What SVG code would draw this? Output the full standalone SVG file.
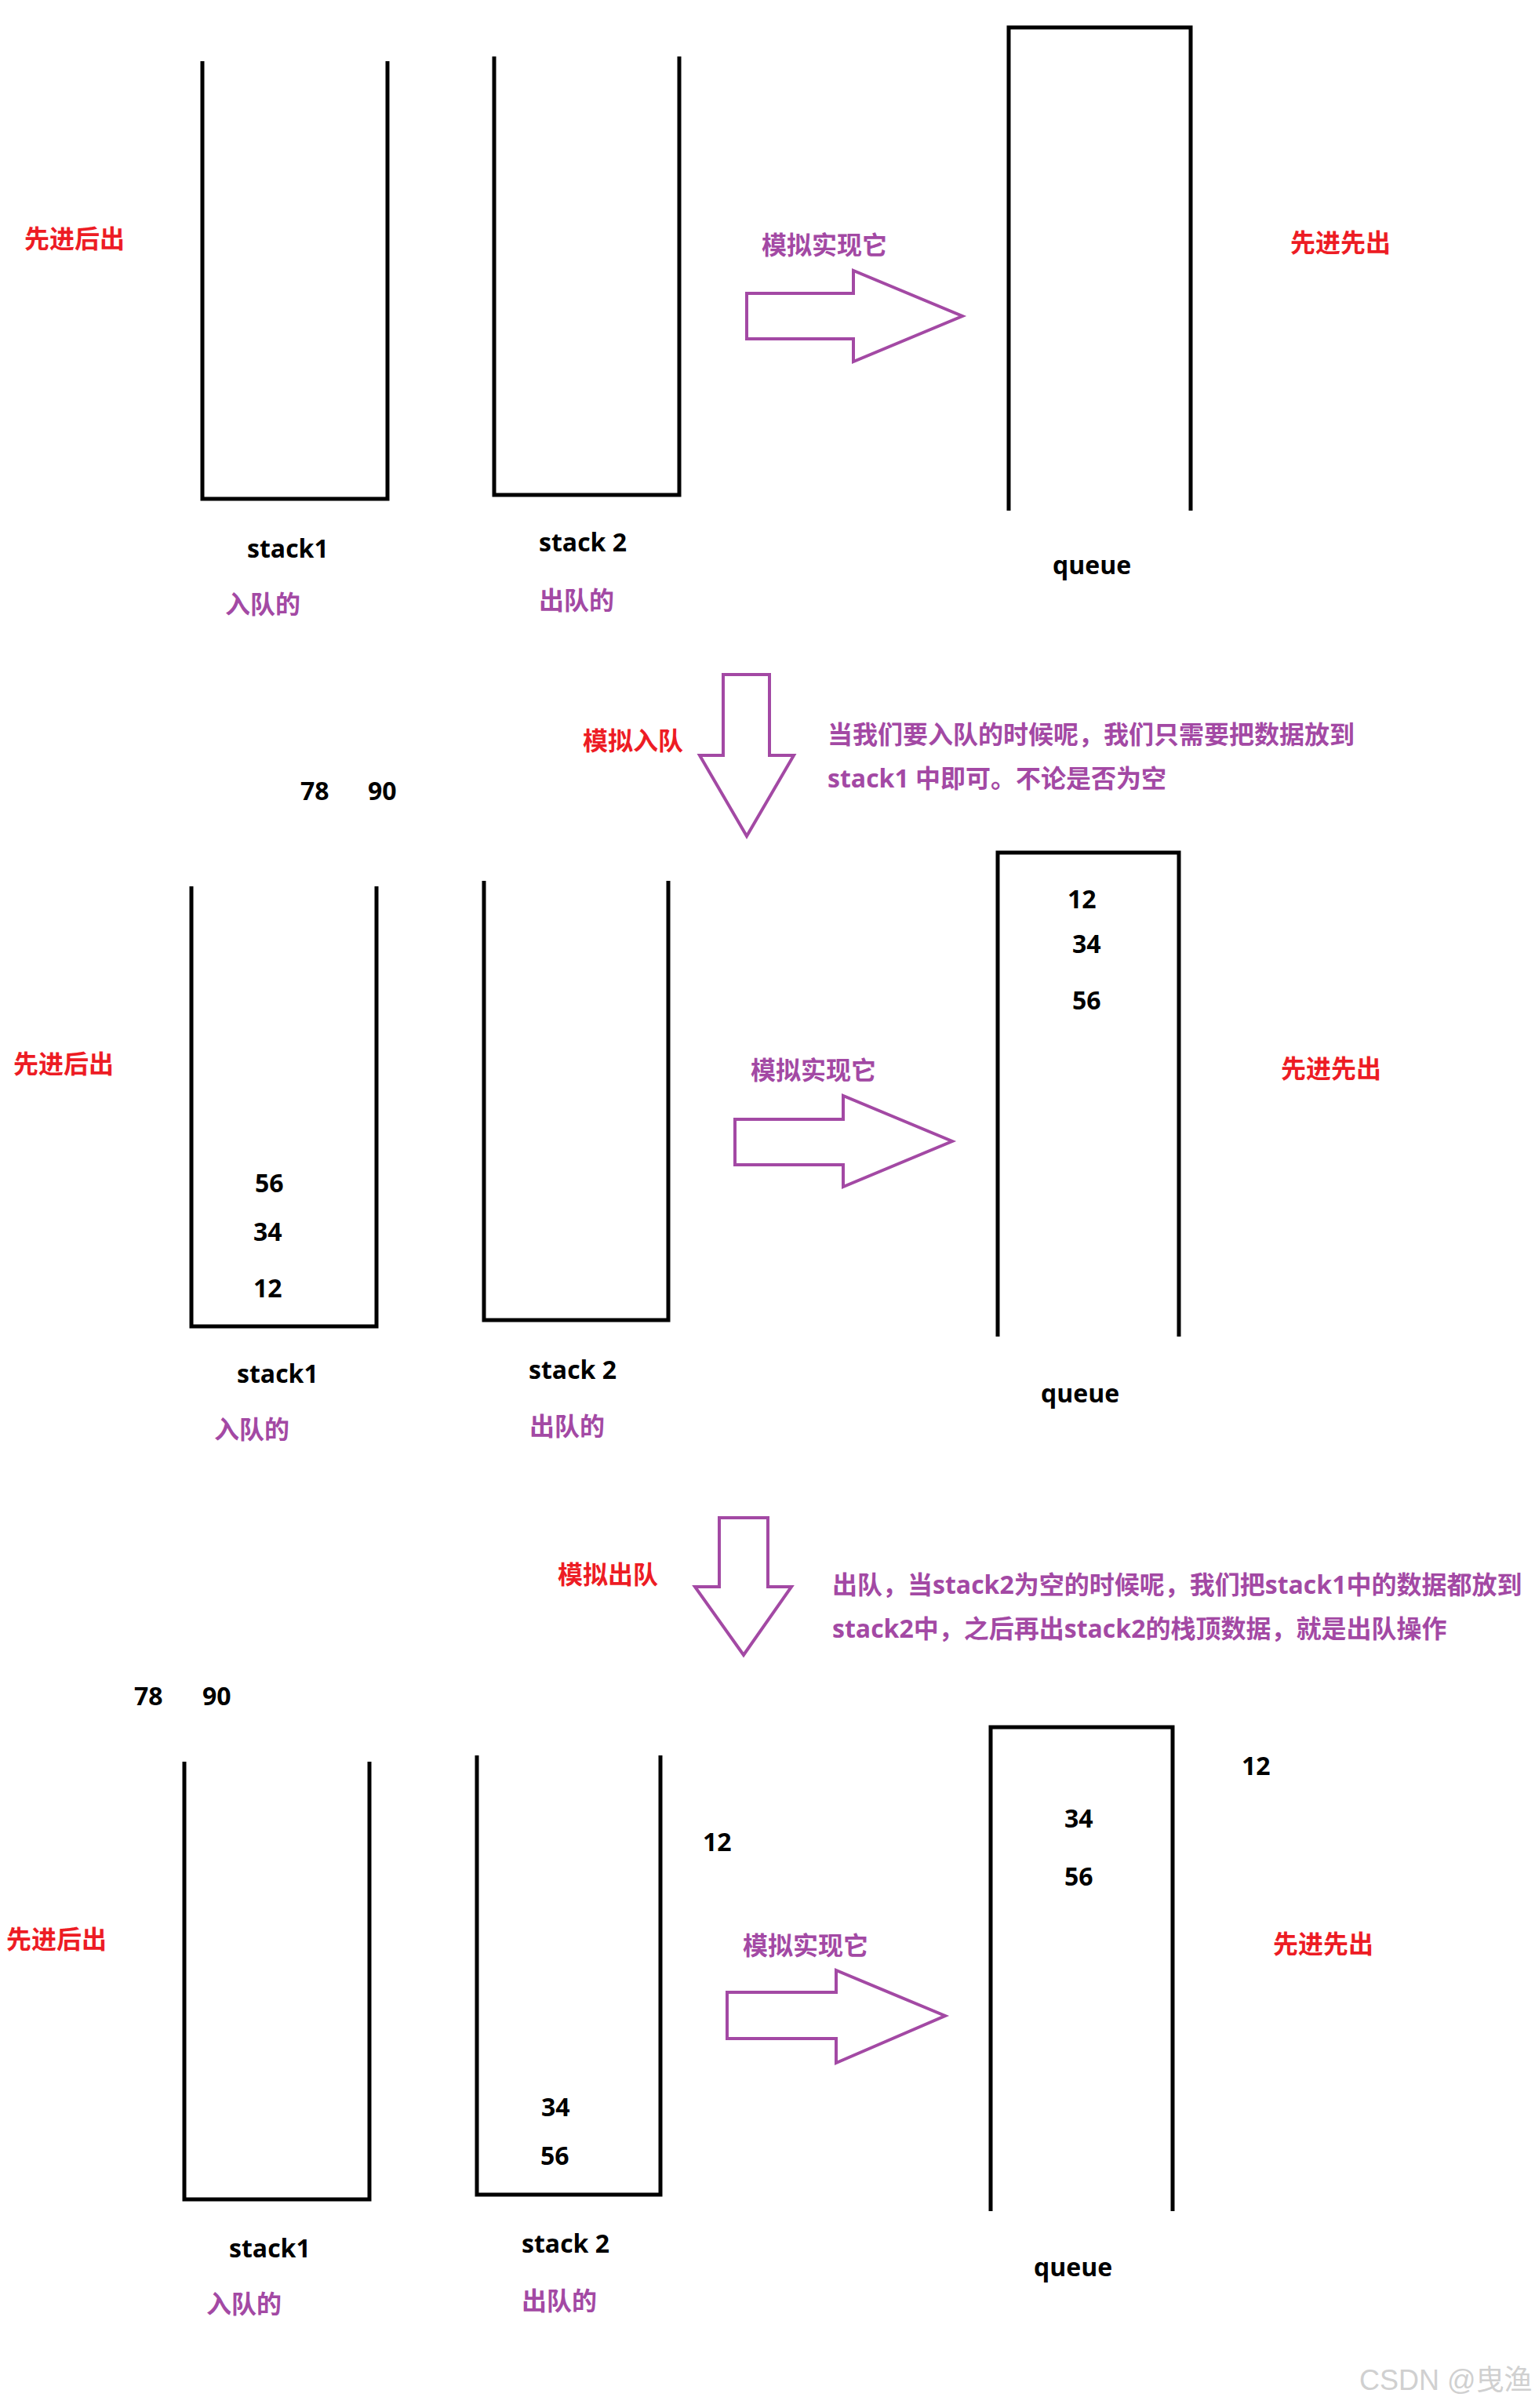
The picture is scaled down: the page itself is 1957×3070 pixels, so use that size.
<svg xmlns="http://www.w3.org/2000/svg" width="1957" height="3070" viewBox="0 0 1957 3070">
<style>
text{font-family:"Open Sans","Noto Sans CJK SC",sans-serif;font-weight:700;font-size:32px}
.blk{fill:#000}
.red{fill:#ED1C24}
.pur{fill:#A349A4}
.box{fill:none;stroke:#000;stroke-width:5;stroke-linejoin:miter}
.arr{fill:#fff;stroke:#A349A4;stroke-width:4;stroke-linejoin:miter}
.wm{fill:#d0d0d0;font-weight:400;font-size:36px;font-family:"Liberation Sans","Noto Sans CJK SC",sans-serif}
</style>
<rect width="1957" height="3070" fill="#fff"/>

<!-- Panel 1 -->
<g id="p1-label-left"><text class="red" x="31" y="316">先进后出</text></g>
<g id="p1-stack1"><path class="box" d="M258,78 V636 H494 V78"/><text class="blk" x="315" y="711">stack1</text><text class="pur" x="287" y="782">入队的</text></g>
<g id="p1-stack2"><path class="box" d="M630,72 V631 H866 V72"/><text class="blk" x="687" y="703">stack 2</text><text class="pur" x="687" y="777">出队的</text></g>
<g id="p1-sim"><text class="pur" x="971" y="324">模拟实现它</text></g>
<g id="p1-queue"><path class="box" d="M1286,651 V35 H1518 V651"/><text class="blk" x="1342" y="732">queue</text></g>
<g id="p1-label-right"><text class="red" x="1645" y="321">先进先出</text></g>

<!-- Panel 2 -->
<g id="p2-enqueue-label"><text class="red" x="743" y="956">模拟入队</text></g>
<g id="p2-desc"><text class="pur" x="1055" y="948">当我们要入队的时候呢，我们只需要把数据放到</text><text class="pur" x="1055" y="1004">stack1 中即可。不论是否为空</text></g>
<g id="p2-incoming"><text class="blk" x="383" y="1020">78</text><text class="blk" x="469" y="1020">90</text></g>
<g id="p2-label-left"><text class="red" x="17" y="1368">先进后出</text></g>
<g id="p2-stack1"><path class="box" d="M244,1130 V1691 H480 V1130"/><text class="blk" x="325" y="1520">56</text><text class="blk" x="323" y="1582">34</text><text class="blk" x="323" y="1654">12</text><text class="blk" x="302" y="1763">stack1</text><text class="pur" x="273" y="1834">入队的</text></g>
<g id="p2-stack2"><path class="box" d="M617,1123 V1683 H852 V1123"/><text class="blk" x="674" y="1758">stack 2</text><text class="pur" x="675" y="1830">出队的</text></g>
<g id="p2-sim"><text class="pur" x="957" y="1376">模拟实现它</text></g>
<g id="p2-queue"><path class="box" d="M1272,1704 V1087 H1503 V1704"/><text class="blk" x="1361" y="1158">12</text><text class="blk" x="1367" y="1215">34</text><text class="blk" x="1367" y="1287">56</text><text class="blk" x="1327" y="1788">queue</text></g>
<g id="p2-label-right"><text class="red" x="1633" y="1374">先进先出</text></g>

<!-- Panel 3 -->
<g id="p3-dequeue-label"><text class="red" x="711" y="2019">模拟出队</text></g>
<g id="p3-desc"><text class="pur" x="1061" y="2032">出队，当stack2为空的时候呢，我们把stack1中的数据都放到</text><text class="pur" x="1061" y="2088">stack2中，之后再出stack2的栈顶数据，就是出队操作</text></g>
<g id="p3-pending"><text class="blk" x="171" y="2174">78</text><text class="blk" x="258" y="2174">90</text></g>
<g id="p3-label-left"><text class="red" x="8" y="2484">先进后出</text></g>
<g id="p3-stack1"><path class="box" d="M235,2246 V2804 H471 V2246"/><text class="blk" x="292" y="2878">stack1</text><text class="pur" x="263" y="2949">入队的</text></g>
<g id="p3-stack2"><path class="box" d="M608,2238 V2798 H842 V2238"/><text class="blk" x="690" y="2698">34</text><text class="blk" x="689" y="2760">56</text><text class="blk" x="665" y="2872">stack 2</text><text class="pur" x="665" y="2945">出队的</text></g>
<g id="p3-popped"><text class="blk" x="896" y="2360">12</text></g>
<g id="p3-sim"><text class="pur" x="947" y="2492">模拟实现它</text></g>
<g id="p3-queue"><path class="box" d="M1263,2819 V2202 H1495 V2819"/><text class="blk" x="1357" y="2330">34</text><text class="blk" x="1357" y="2404">56</text><text class="blk" x="1318" y="2902">queue</text></g>
<g id="p3-out"><text class="blk" x="1583" y="2263">12</text></g>
<g id="p3-label-right"><text class="red" x="1623" y="2490">先进先出</text></g>

<g id="connectors">
<polygon class="arr" points="952,374 1088,374 1088,345 1227,403 1088,461 1088,432 952,432"/>
<polygon class="arr" points="922,860 981,860 981,963 1012,963 952,1066 892,963 922,963"/>
<polygon class="arr" points="937,1427 1075,1427 1075,1397 1214,1455 1075,1513 1075,1485 937,1485"/>
<polygon class="arr" points="917,1935 979,1935 979,2023 1009,2023 948,2110 886,2023 917,2023"/>
<polygon class="arr" points="927,2540 1066,2540 1066,2512 1205,2570 1066,2630 1066,2599 927,2599"/>
</g>

<g id="watermark"><text class="wm" x="1733" y="3047">CSDN @曳渔</text></g>
</svg>
